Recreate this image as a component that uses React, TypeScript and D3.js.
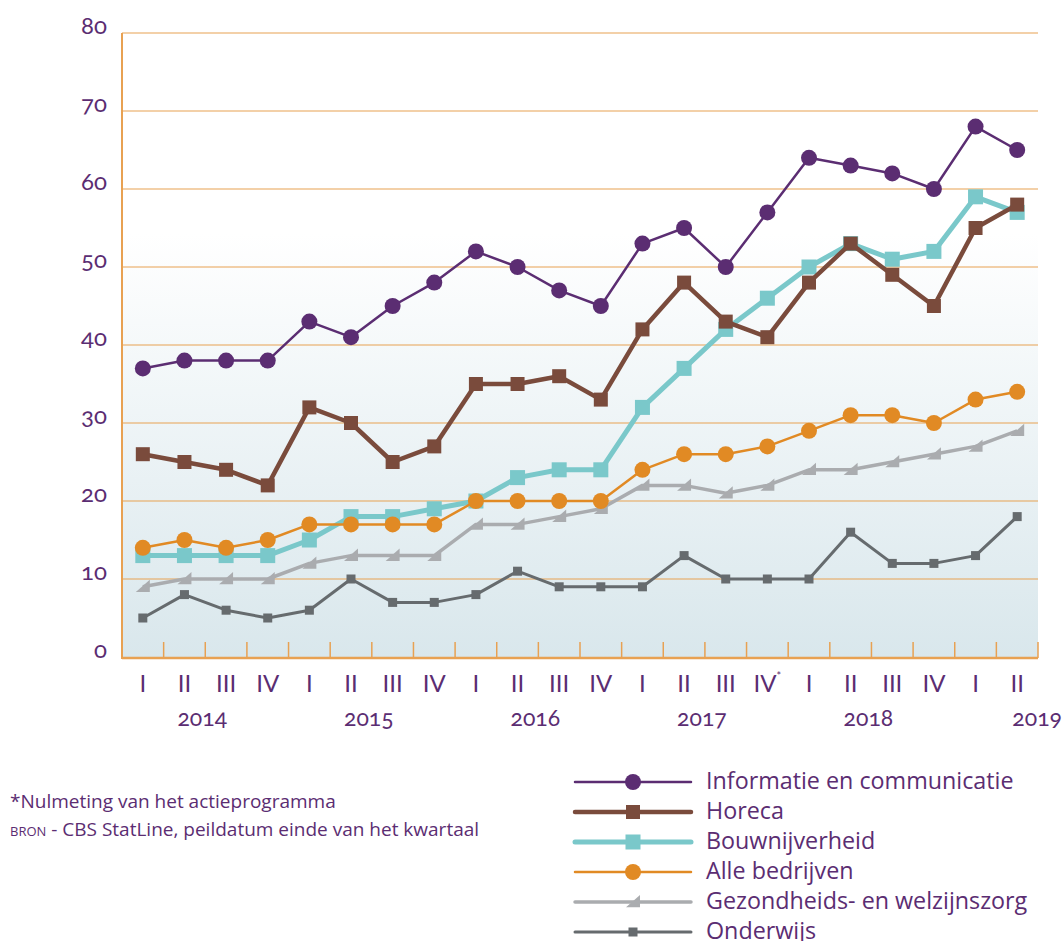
import React from "react";
import * as d3 from "d3";

const quarterLabels = ["I","II","III","IV","I","II","III","IV","I","II","III","IV","I","II","III","IV*","I","II","III","IV","I","II"];
const yearLabels = ["2014","2015","2016","2017","2018","2019"];
const yTicks = [0,10,20,30,40,50,60,70,80];

const infoValues = [37,38,38,38,43,41,45,48,52,50,47,45,53,55,50,57,64,63,62,60,68,65];
const horecaValues = [26,25,24,22,32,30,25,27,35,35,36,33,42,48,43,41,48,53,49,45,55,58];
const bouwValues = [13,13,13,13,15,18,18,19,20,23,24,24,32,37,42,46,50,53,51,52,59,57];
const alleValues = [14,15,14,15,17,17,17,17,20,20,20,20,24,26,26,27,29,31,31,30,33,34];
const gezondValues = [9,10,10,10,12,13,13,13,17,17,18,19,22,22,21,22,24,24,25,26,27,29];
const onderwijsValues = [5,8,6,5,6,10,7,7,8,11,9,9,9,13,10,10,10,16,12,12,13,18];

type Series = { name: string; values: number[]; color: string; width: number; marker: string; size: number };

const series: Series[] = [
  { name: "Informatie en communicatie", values: infoValues, color: "#5b2d72", width: 2.5, marker: "circle", size: 8 },
  { name: "Horeca", values: horecaValues, color: "#7a4b3c", width: 4.5, marker: "square", size: 14 },
  { name: "Bouwnijverheid", values: bouwValues, color: "#7ac8ca", width: 5, marker: "square", size: 15 },
  { name: "Alle bedrijven", values: alleValues, color: "#e18a24", width: 2.5, marker: "circle", size: 8 },
  { name: "Gezondheids- en welzijnszorg", values: gezondValues, color: "#aaacaf", width: 3.5, marker: "triangle", size: 14 },
  { name: "Onderwijs", values: onderwijsValues, color: "#666b6e", width: 3, marker: "square", size: 9 },
];
const drawOrder = [5, 4, 2, 3, 1, 0];

const W = 1064, H = 941;
const M = { left: 122, right: 1038, top: 33, bottom: 658 };
const purple = "#5b2d72";
const orange = "#e8a152";
const font = "'Open Sans', Lato, sans-serif";
const numFont = "Lato, 'Open Sans', sans-serif";
const onum = { fontVariantNumeric: "oldstyle-nums", fontFeatureSettings: '"onum" 1' } as React.CSSProperties;

function Marker({ s, x, y }: { s: Series; x: number; y: number }) {
  const k = s.size;
  if (s.marker === "circle") return <circle cx={x} cy={y} r={k} fill={s.color} />;
  if (s.marker === "square") return <rect x={x - k / 2} y={y - k / 2} width={k} height={k} fill={s.color} />;
  return <path d={`M${x - k / 2},${y + k * 0.38} L${x + k / 2},${y - k / 2} L${x + k / 2},${y + k * 0.38} Z`} fill={s.color} />;
}

export default function App() {
  const x = d3.scaleBand<number>().domain(d3.range(quarterLabels.length)).range([M.left, M.right]);
  const y = d3.scaleLinear().domain([0, 80]).range([M.bottom - 1, M.top]);
  const cx = (i: number) => (x(i) as number) + x.bandwidth() / 2;
  const line = d3.line<number>().x((_, i) => cx(i)).y((v) => y(v));

  return (
    <svg width={W} height={H} style={{ position: "absolute", left: 0, top: 0, background: "#fff" }}>
      <defs>
        <linearGradient id="bg" x1="0" y1="0" x2="0" y2="1">
          <stop offset="0" stopColor="#ffffff" />
          <stop offset="0.32" stopColor="#ffffff" />
          <stop offset="1" stopColor="#d9e7ec" />
        </linearGradient>
      </defs>
      <rect x={M.left} y={M.top} width={M.right - M.left} height={M.bottom - M.top} fill="url(#bg)" />
      {yTicks.map((t) => (
        <g key={t}>
          {t > 0 && <line x1={M.left} x2={M.right} y1={y(t)} y2={y(t)} stroke={orange} strokeWidth={1.2} />}
          <text x={107} y={y(t) + 1} textAnchor="end" fontFamily={numFont} fontSize={24} fill={purple} style={onum}>{t}</text>
        </g>
      ))}
      {d3.range(1, quarterLabels.length + 1).map((i) => {
        const xx = i === quarterLabels.length ? M.right : (x(i) as number);
        return <line key={i} x1={xx} x2={xx} y1={M.bottom - 16} y2={M.bottom} stroke={orange} strokeWidth={1.5} />;
      })}
      <line x1={M.left} x2={M.left} y1={M.top} y2={M.bottom + 1} stroke={orange} strokeWidth={2} />
      <line x1={M.left} x2={M.right} y1={M.bottom} y2={M.bottom} stroke={orange} strokeWidth={2.5} />

      {quarterLabels.map((q, i) => {
        const star = q.endsWith("*");
        return (
          <text key={i} x={cx(i)} y={692} textAnchor="middle" fontFamily={numFont} fontSize={24} fill={purple}>
            {star ? q.slice(0, -1) : q}
            {star && <tspan fontSize={11} dy={-12}>*</tspan>}
          </text>
        );
      })}
      {yearLabels.map((yr, j) => {
        const last = j === yearLabels.length - 1;
        const xx = last ? 1062 : (cx(j * 4) + cx(j * 4 + 3)) / 2 - 3;
        return (
          <text key={yr} x={xx} y={726} textAnchor={last ? "end" : "middle"} fontFamily={numFont} fontSize={23} fill={purple} style={onum}>{yr}</text>
        );
      })}

      {drawOrder.map((k) => {
        const s = series[k];
        return (
          <g key={s.name}>
            <path d={line(s.values) || ""} fill="none" stroke={s.color} strokeWidth={s.width} strokeLinejoin="round" />
            {s.values.map((v, i) => <Marker key={i} s={s} x={cx(i)} y={y(v)} />)}
          </g>
        );
      })}

      <text x={10} y={808} fontFamily={font} fontSize={19} fill={purple}>*Nulmeting van het actieprogramma</text>
      <text x={10} y={836} fontFamily={font} fontSize={19} fill={purple}>
        <tspan style={{ fontVariant: "small-caps" }}>bron</tspan> - CBS StatLine, peildatum einde van het kwartaal
      </text>

      {series.map((s, i) => {
        const ly = 782 + i * 30;
        return (
          <g key={s.name}>
            <line x1={575} x2={691} y1={ly} y2={ly} stroke={s.color} strokeWidth={s.width} strokeLinecap="round" />
            <Marker s={s} x={633} y={ly} />
            <text x={706} y={ly + 7} fontFamily={font} fontSize={23.3} fill={purple}>{s.name}</text>
          </g>
        );
      })}
    </svg>
  );
}
